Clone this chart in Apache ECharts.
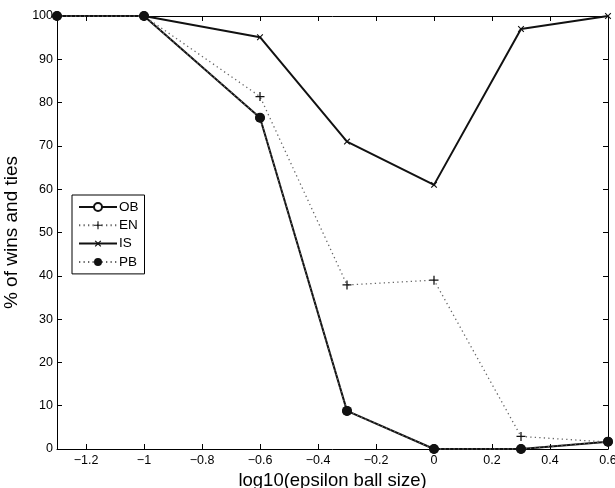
<!DOCTYPE html>
<html>
<head>
<meta charset="utf-8">
<script src="https://cdn.jsdelivr.net/npm/echarts@6/dist/echarts.min.js"></script>
<style>
  html, body { margin: 0; padding: 0; background: #fff; }
  #chart { width: 615px; height: 488px; }
</style>
</head>
<body>
<div id="chart"></div>
<script>
// log10 of epsilon ball size
const xs = [-1.3, -1, -0.6, -0.3, 0, 0.3, 0.6];
const obVals = [100, 100, 76.5, 8.8, 0, 0, 1.7];
const enVals = [100, 100, 81.4, 37.9, 39, 2.9, 1.6];
const isVals = [100, 100, 95.1, 71, 61, 97, 100];
const pbVals = [100, 100, 76.5, 8.8, 0, 0, 1.7];

const plusPath = 'path://M-0.7,-5H0.7V-0.7H5V0.7H0.7V5H-0.7V0.7H-5V-0.7H-0.7Z';
const font = 'Liberation Sans, Arial, Helvetica, sans-serif';

const pairs = (vals) => xs.map((x, i) => [x, vals[i]]);

const solid = { color: '#111', width: 2, type: 'solid' };
const dotted = { color: '#666', width: 1.3, type: [1.3, 3.2] };

var myChart = echarts.init(document.getElementById('chart'));

const baseX = {
    type: 'value', min: -1.3, max: 0.6, splitNumber: 10,
    minInterval: 0.2, maxInterval: 0.2,
    axisLine: { show: true, onZero: false, lineStyle: { color: '#000', width: 1 } },
    axisTick: { show: true, inside: true, length: 5, lineStyle: { color: '#000' } },
    splitLine: { show: false }
};
const baseY = {
    type: 'value', min: 0, max: 100, interval: 10,
    axisLine: { show: true, onZero: false, lineStyle: { color: '#000', width: 1 } },
    axisTick: { show: true, inside: true, length: 5, lineStyle: { color: '#000' } },
    splitLine: { show: false }
};

option = {
    animation: false,
    backgroundColor: '#fff',
    grid: { left: 57, right: 7, top: 16, bottom: 39, show: false, outerBoundsMode: 'none', containLabel: false },
    legend: {
        orient: 'vertical',
        left: 72, top: 195,
        padding: [5, 6, 5, 6],
        itemGap: 4.3,
        itemWidth: 38, itemHeight: 10,
        borderColor: '#000', borderWidth: 1,
        backgroundColor: '#fff',
        textStyle: { fontFamily: font, fontSize: 13.5, color: '#000', padding: [0, 0, 0, -3] },
        data: ['OB', 'EN', 'IS', 'PB']
    },
    xAxis: [
        Object.assign({}, baseX, {
            position: 'bottom',
            name: 'log10(epsilon ball size)',
            nameLocation: 'middle', nameGap: 16,
            nameTextStyle: { fontFamily: font, fontSize: 18.5, color: '#000' },
            axisLabel: {
                show: true, showMinLabel: false, margin: 5,
                fontFamily: font, fontSize: 12.5, color: '#000',
                formatter: (v) => String(Math.round(v * 10) / 10).replace('-', '\u2212')
            }
        }),
        Object.assign({}, baseX, { position: 'top', axisLabel: { show: false } })
    ],
    yAxis: [
        Object.assign({}, baseY, {
            position: 'left',
            name: '% of wins and ties',
            nameLocation: 'middle', nameGap: 33,
            nameTextStyle: { fontFamily: font, fontSize: 19, color: '#000' },
            axisLabel: { show: true, margin: 4, fontFamily: font, fontSize: 12.5, color: '#000' }
        }),
        Object.assign({}, baseY, { position: 'right', axisLabel: { show: false } })
    ],
    series: [
        {
            name: 'OB', type: 'line', data: pairs(obVals),
            lineStyle: solid, symbol: 'circle', symbolSize: 8,
            itemStyle: { color: '#fff', borderColor: '#111', borderWidth: 1.5 }
        },
        {
            name: 'EN', type: 'line', data: pairs(enVals),
            lineStyle: dotted, symbol: plusPath, symbolSize: 9,
            itemStyle: { color: '#111', borderWidth: 0 }
        },
        {
            name: 'IS', type: 'line', data: pairs(isVals),
            lineStyle: solid, symbol: plusPath, symbolSize: 8, symbolRotate: 45,
            itemStyle: { color: '#111', borderWidth: 0 }
        },
        {
            name: 'PB', type: 'line', data: pairs(pbVals),
            lineStyle: dotted, symbol: 'circle', symbolSize: 10,
            itemStyle: { color: '#111', borderWidth: 0 }
        }
    ]
};
myChart.setOption(option);
</script>
</body>
</html>
